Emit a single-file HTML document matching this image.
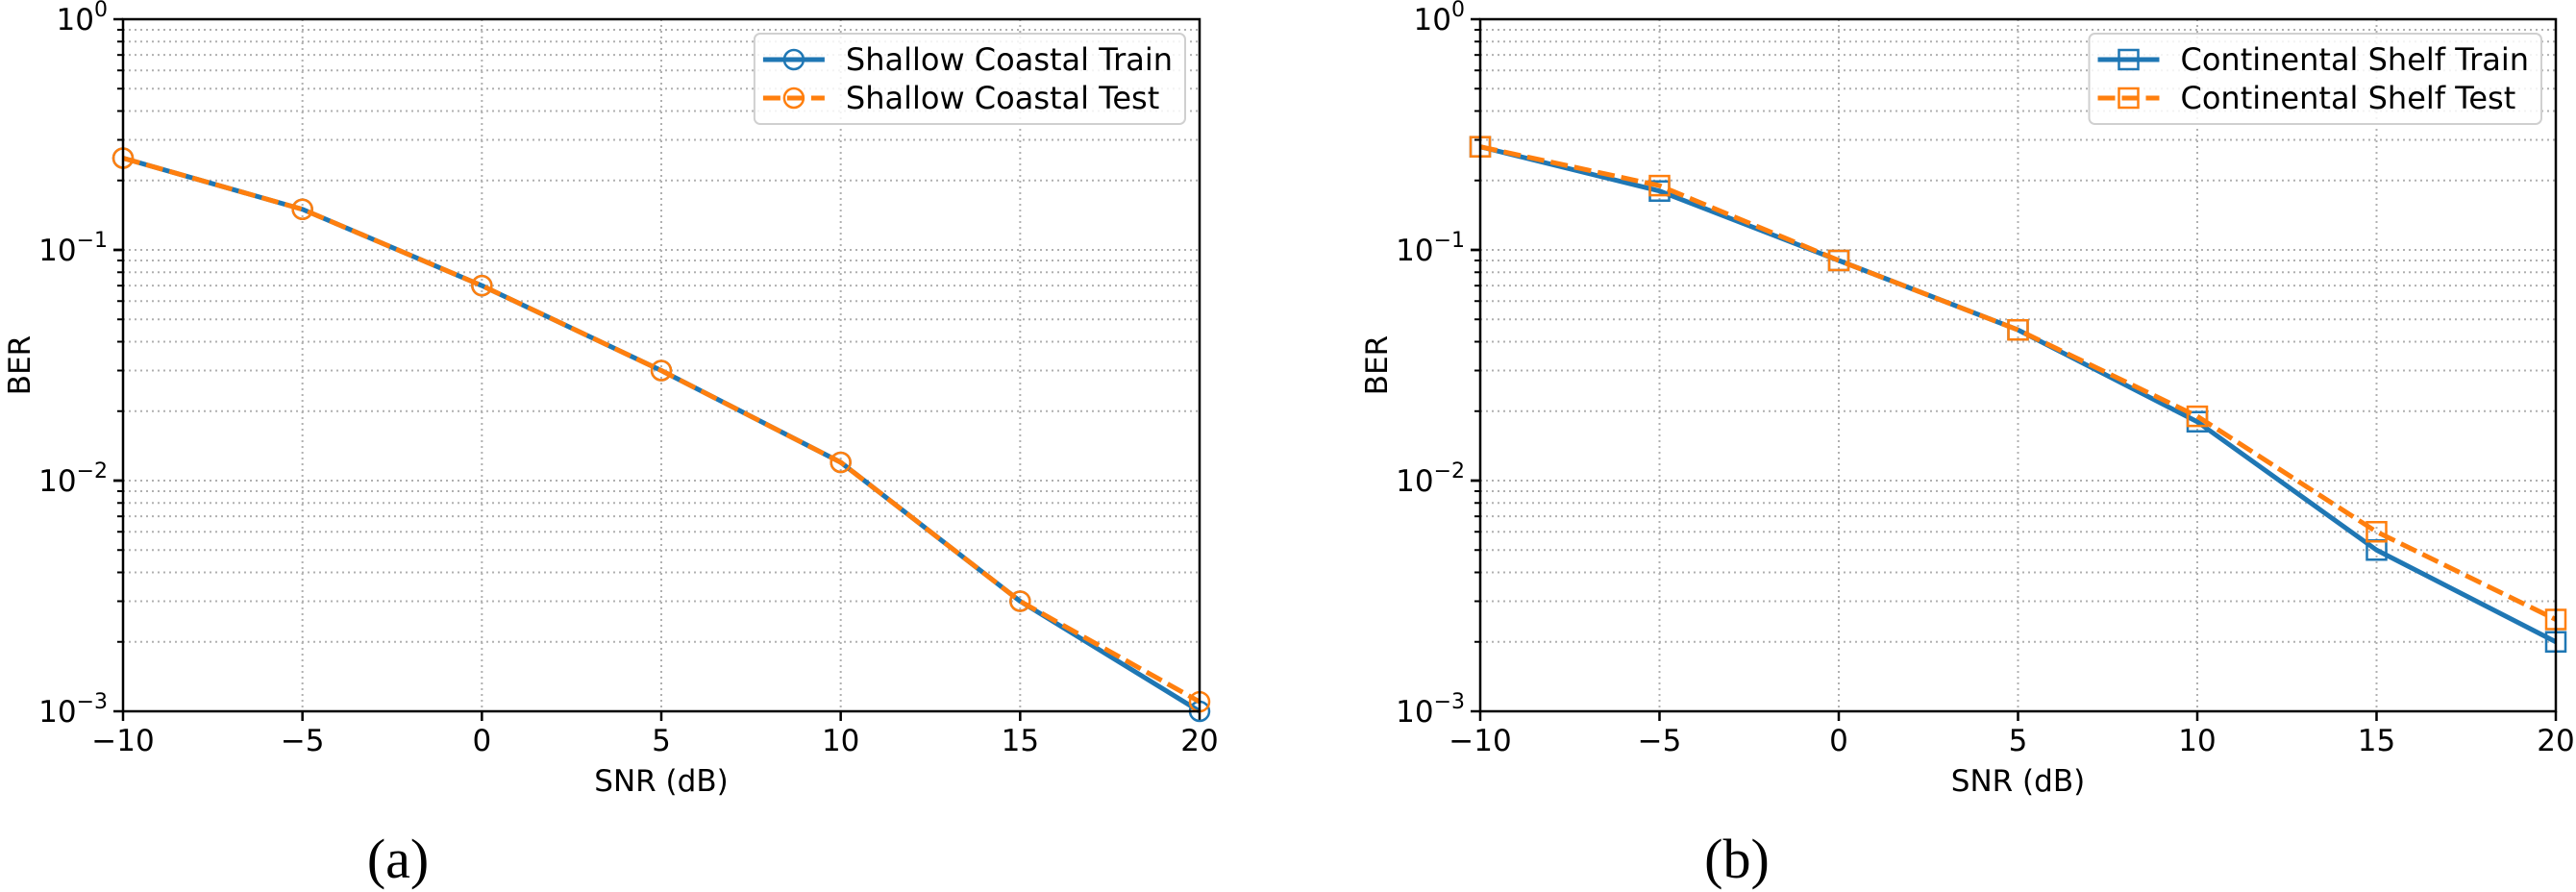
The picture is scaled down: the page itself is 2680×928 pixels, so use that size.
<!DOCTYPE html>
<html><head><meta charset="utf-8"><style>
body{margin:0;background:#fff;}
svg{display:block;font-family:"DejaVu Sans","Liberation Sans",sans-serif;}
</style></head><body>
<svg id="fig" width="2680" height="928" viewBox="0 0 2680 928" xmlns="http://www.w3.org/2000/svg"></svg>
<script>
const snr = [-10, -5, 0, 5, 10, 15, 20];
const xTicks = [-10, -5, 0, 5, 10, 15, 20];
const xTickLabels = ["\u221210", "\u22125", "0", "5", "10", "15", "20"];
const yTickExps = [0, -1, -2, -3];
const shallowTrain = [0.25, 0.15, 0.07, 0.03, 0.012, 0.003, 0.001];
const shallowTest = [0.25, 0.15, 0.07, 0.03, 0.012, 0.003, 0.0011];
const shelfTrain = [0.28, 0.18, 0.09, 0.045, 0.018, 0.005, 0.002];
const shelfTest = [0.28, 0.19, 0.09, 0.045, 0.019, 0.006, 0.0025];

const NS = "http://www.w3.org/2000/svg";
const svg = document.getElementById('fig');
function mk(tag, attrs, parent, text) {
  const e = document.createElementNS(NS, tag);
  for (const k in attrs) e.setAttribute(k, attrs[k]);
  if (text !== undefined) e.textContent = text;
  (parent || svg).appendChild(e);
  return e;
}
const BLUE = '#1f77b4', ORANGE = '#ff7f0e';

function panel(name, x0, x1, series, marker, legendLabels, caption, capX) {
  const top = 20, bot = 740;
  const g = mk('g', {});
  
  
  const sx = v => x0 + (v - (-10)) / 30 * (x1 - x0);
  const sy = v => top + (0 - Math.log10(v)) / 3 * (bot - top);
  const grid = mk('g', {}, g);
  
  
  for (let e = 0; e > -3; e--) {
    for (let m = 1; m <= 9; m++) {
      const v = m * Math.pow(10, e - 1);
      const y = sy(v);
      if (y <= top + 0.5 || y >= bot - 0.5) continue;
      mk('line', {x1: x0, x2: x1, y1: y, y2: y, stroke: '#b0b0b0', 'stroke-width': 2, 'stroke-dasharray': '2,4'}, grid);
      const major = m === 1;
      mk('line', {x1: x0 - (major ? 10 : 6), x2: x0, y1: y, y2: y, stroke: '#000', 'stroke-width': major ? 2.5 : 2}, g);
    }
  }
  xTicks.forEach((t, i) => {
    const x = sx(t);
    if (i > 0 && i < xTicks.length - 1)
      mk('line', {x1: x, x2: x, y1: top, y2: bot, stroke: '#b0b0b0', 'stroke-width': 2, 'stroke-dasharray': '2,4'}, grid);
    mk('line', {x1: x, x2: x, y1: bot, y2: bot + 10, stroke: '#000', 'stroke-width': 2.5}, g);
    const tl = mk('text', {x: x, y: 781, 'font-size': 31, 'text-anchor': 'middle'}, g, xTickLabels[i]);
    
    
  });
  yTickExps.forEach(e => {
    const y = sy(Math.pow(10, e));
    mk('line', {x1: x0 - 10, x2: x0, y1: y, y2: y, stroke: '#000', 'stroke-width': 2.5}, g);
    const t = mk('text', {x: x0 - 16, y: y + 11, 'font-size': 31, 'text-anchor': 'end'}, g);
    
    
    mk('tspan', {}, t, '10');
    mk('tspan', {dy: -14, 'font-size': 22}, t, e === 0 ? '0' : '\u2212' + (-e));
  });
  series.forEach((s, si) => {
    const pts = snr.map((v, i) => sx(v) + ',' + sy(s.vals[i])).join(' ');
    const pl = mk('polyline', {points: pts, fill: 'none', stroke: s.color, 'stroke-width': 5,
      'stroke-dasharray': s.dash || 'none', 'stroke-linejoin': 'round'}, g);
    
    
    snr.forEach((v, i) => {
      const cx = sx(v), cy = sy(s.vals[i]);
      let m;
      if (marker === 'o') m = mk('circle', {cx: cx, cy: cy, r: 10, fill: 'none', stroke: s.color, 'stroke-width': 2.5}, g);
      else m = mk('rect', {x: cx - 10, y: cy - 10, width: 20, height: 20, fill: 'none', stroke: s.color, 'stroke-width': 2.5}, g);
      
      
    });
  });
  mk('rect', {x: x0, y: top, width: x1 - x0, height: bot - top, fill: 'none', stroke: '#000', 'stroke-width': 2.5}, g);
  const xl = mk('text', {x: (x0 + x1) / 2, y: 823, 'font-size': 31, 'text-anchor': 'middle'}, g, 'SNR (dB)');
  
  
  const yl = mk('text', {x: 0, y: 0, 'font-size': 31, 'text-anchor': 'middle', transform: `translate(${x0 - 97},380) rotate(-90)`}, g, 'BER');
  
  
  const cap = mk('text', {x: capX, y: 913, 'font-size': 58, 'text-anchor': 'middle', 'font-family': '"Liberation Serif", serif'}, g, caption);
  
  
  // legend
  const lg = mk('g', {}, g);
  
  
  const lr = x1 - 15;
  const box = mk('rect', {x: 0, y: 35, width: 10, height: 94, rx: 6, fill: '#fff', 'fill-opacity': 0.85, stroke: '#d0d0d0', 'stroke-width': 2}, lg);
  const texts = [];
  let maxW = 0;
  legendLabels.forEach((lab, si) => {
    const t = mk('text', {x: 0, y: 62 + si * 40 + 11, 'font-size': 32}, lg, lab);
    texts.push(t);
    maxW = Math.max(maxW, t.getComputedTextLength());
  });
  const left = lr - 13 - maxW - 95;
  box.setAttribute('x', left);
  box.setAttribute('width', lr - left);
  series.forEach((s, si) => {
    const y = 62 + si * 40;
    texts[si].setAttribute('x', left + 95);
    const le = mk('g', {}, lg);
    
    
    mk('line', {x1: left + 9, x2: left + 73, y1: y, y2: y, stroke: s.color, 'stroke-width': 5, 'stroke-dasharray': s.dash ? '18,7' : 'none'}, le);
    if (marker === 'o') mk('circle', {cx: left + 41, cy: y, r: 10, fill: 'none', stroke: s.color, 'stroke-width': 2.5}, le);
    else mk('rect', {x: left + 31, y: y - 10, width: 20, height: 20, fill: 'none', stroke: s.color, 'stroke-width': 2.5}, le);
  });
}
panel('panel-a-shallow-coastal', 128, 1248,
  [{name: 'shallow-train-line', vals: shallowTrain, color: BLUE},
   {name: 'shallow-test-line', vals: shallowTest, color: ORANGE, dash: '18,7'}],
  'o', ['Shallow Coastal Train', 'Shallow Coastal Test'], '(a)', 414);
panel('panel-b-continental-shelf', 1540, 2659,
  [{name: 'shelf-train-line', vals: shelfTrain, color: BLUE},
   {name: 'shelf-test-line', vals: shelfTest, color: ORANGE, dash: '18,7'}],
  's', ['Continental Shelf Train', 'Continental Shelf Test'], '(b)', 1807);
</script>
</body></html>
